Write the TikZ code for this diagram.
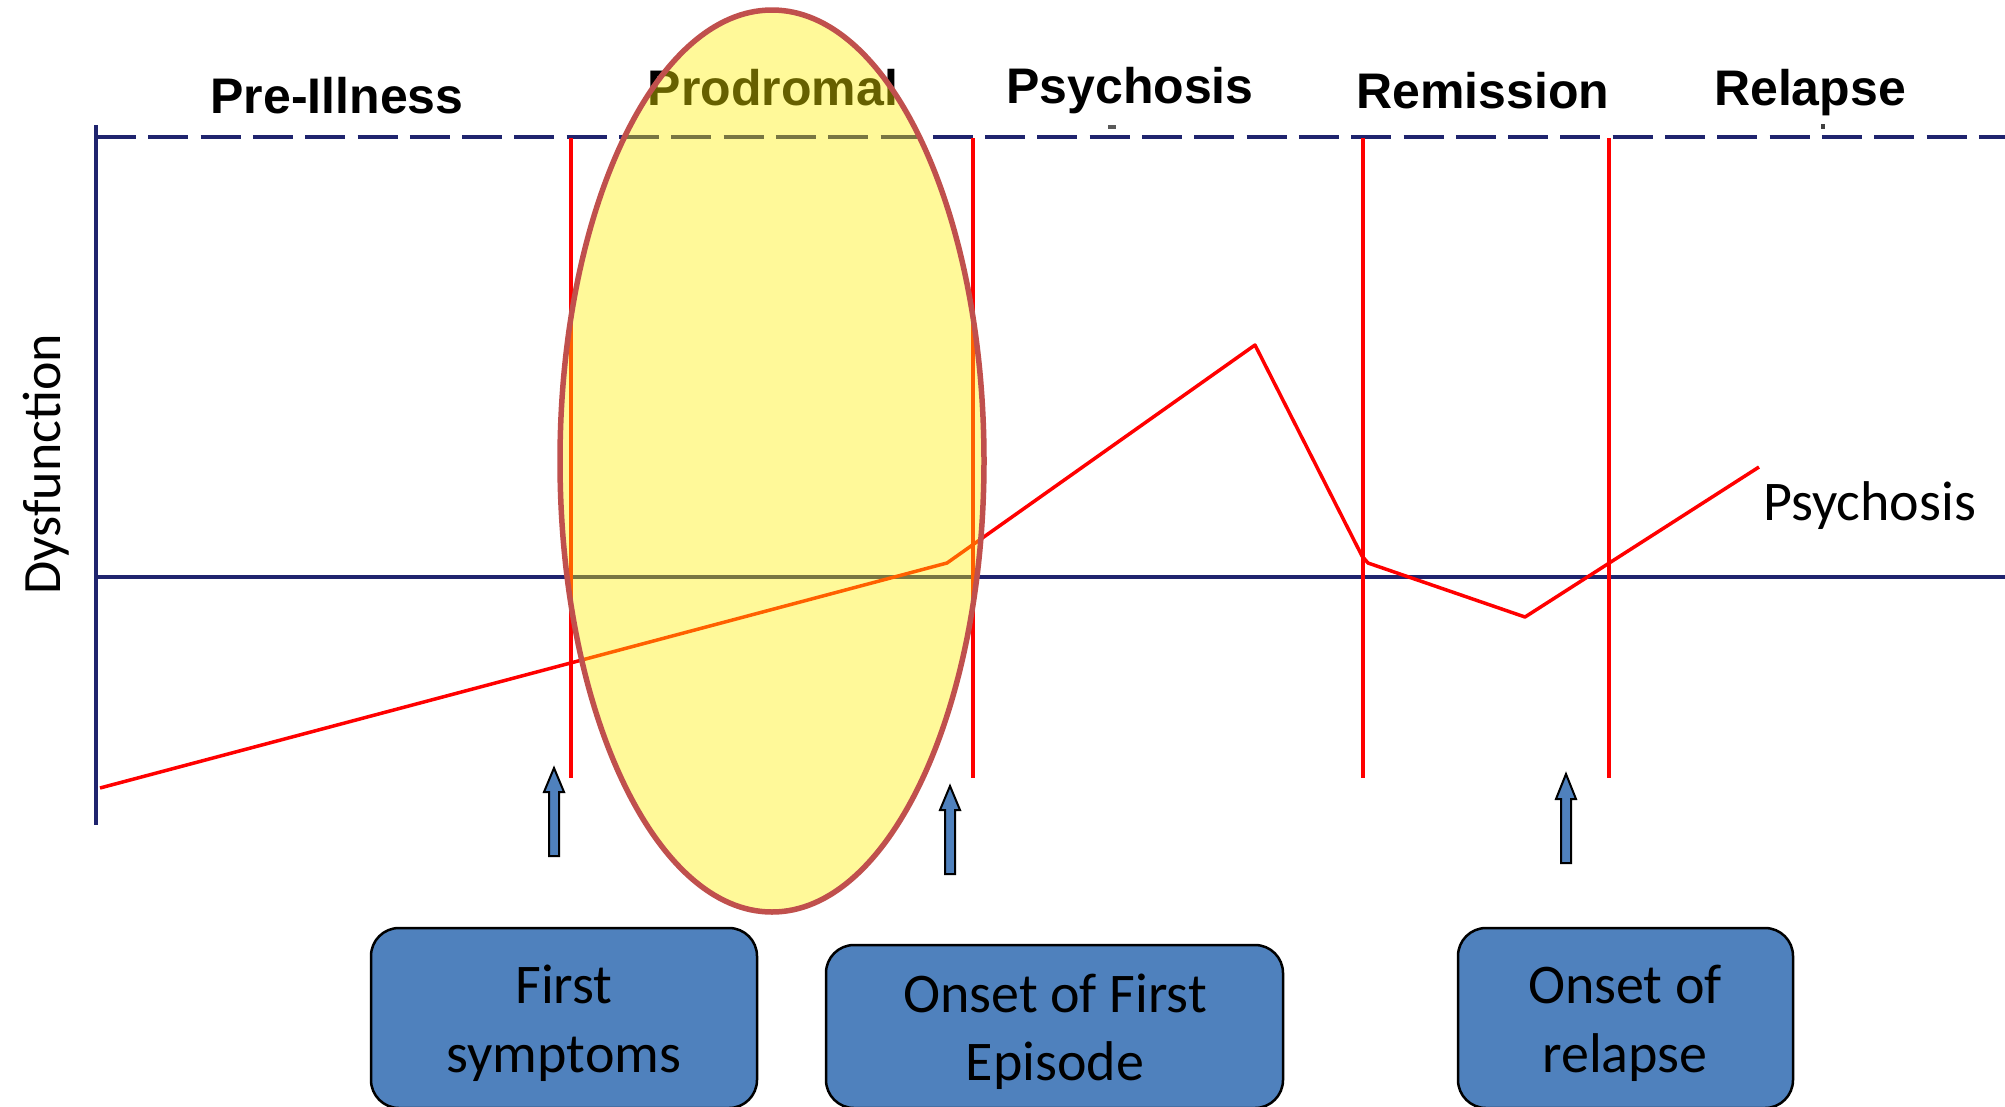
\documentclass[tikz,border=0pt]{standalone}
\usepackage{fontspec}
\setmainfont{Liberation Sans}
\newfontfamily\carlito{Carlito}
\usetikzlibrary{shapes.geometric}
\definecolor{navy}{RGB}{31,36,110}
\definecolor{boxblue}{HTML}{4F81BD}
\definecolor{ellred}{HTML}{C0504D}
\begin{document}
\begin{tikzpicture}[x=1pt,y=-1pt,
  axis/.style={draw=navy,line width=3.5pt},
  dashaxis/.style={draw=navy,line width=3.5pt,dash pattern=on 40pt off 12.3pt},
  redline/.style={draw=red,line width=3.5pt},
  dataline/.style={draw=red,line width=3.5pt,line join=round},
  head/.style={font=\fontsize{50}{60}\selectfont\bfseries,anchor=base,inner sep=0pt},
  lbl/.style={font=\carlito\fontsize{56}{66}\selectfont,anchor=base,inner sep=0pt},
  boxtxt/.style={font=\carlito\fontsize{56}{66}\selectfont,anchor=base,inner sep=0pt},
  bluebox/.style={draw=black,line width=2.5pt,fill=boxblue,rounded corners=28pt,inner sep=0pt},
  barrow/.style={draw=black,line width=2pt,fill=boxblue,line join=miter},
  prodell/.style={ellipse,draw=ellred,line width=5.5pt,fill=yellow,fill opacity=0.4,inner sep=0pt,
     minimum width=424pt,minimum height=902pt}
]
\useasboundingbox (0,0) rectangle (2005,1106);
\fill[white] (0,0) rectangle (2005,1106);

% axes
\coordinate (ytop) at (96,125);
\coordinate (ybot) at (96,825);
\coordinate (hl) at (96,577);
\coordinate (hr) at (2005,577);
\coordinate (dl) at (96,137);
\coordinate (dr) at (2005,137);
\draw[dashaxis] (dl) -- (dr);
\draw[axis] (hl) -- (hr);
\draw[axis] (ytop) -- (ybot);

% tiny marks
\fill[black!65] (1108,125) rectangle (1116,129);
\fill[black!75] (1821,124) rectangle (1825,129);

% red vertical phase lines
\foreach \n/\x in {a/571,b/973,c/1363,d/1609}{
  \coordinate (\n t) at (\x,138);
  \coordinate (\n b) at (\x,778);
  \draw[redline] (\n t) -- (\n b);
}

% data line
\coordinate (p0) at (100,788);
\coordinate (p1) at (947,563);
\coordinate (p2) at (1255,345);
\coordinate (p3) at (1362,556);
\coordinate (p4) at (1368,563);
\coordinate (p5) at (1525,617);
\coordinate (p6) at (1759,467);
\draw[dataline] (p0) -- (p1) -- (p2) -- (p3) -- (p4) -- (p5) -- (p6);

% headings
\node[head] (h1) at (337,113) {Pre-Illness};
\node[head] (h2) at (773,105) {Prodromal};
\node[head] (h3) at (1130,103) {Psychosis};
\node[head] (h4) at (1483,108) {Remission};
\node[head] (h5) at (1810,105) {Relapse};

% axis labels
\node[lbl,anchor=base west] (psy) at (1763,520) {Psychosis};
\node[lbl,rotate=90,font=\carlito\fontsize{54}{64}\selectfont] (dys) at (60,464) {Dysfunction};

% prodromal ellipse
\node[prodell] (ell) at (772,461) {};

% block arrows
\draw[barrow] (549,856) -- (549,792) -- (544,792) -- (554,768) -- (564,792) -- (559,792) -- (559,856) -- cycle;
\draw[barrow] (945,874) -- (945,810) -- (940,810) -- (950,786) -- (960,810) -- (955,810) -- (955,874) -- cycle;
\draw[barrow] (1561,863) -- (1561,799) -- (1556,799) -- (1566,774) -- (1576,799) -- (1571,799) -- (1571,863) -- cycle;

% boxes
\node[bluebox,minimum width=386pt,minimum height=180pt] (b1) at (564,1018) {};
\node[bluebox,minimum width=457pt,minimum height=163pt] (b2) at (1054.5,1026.5) {};
\node[bluebox,minimum width=335pt,minimum height=180pt] (b3) at (1625.5,1018) {};

\node[boxtxt] (t1a) at (564,1003) {First};
\node[boxtxt] (t1b) at (564,1072) {symptoms};
\node[boxtxt] (t2a) at (1055,1012) {Onset of First};
\node[boxtxt] (t2b) at (1055,1080) {Episode};
\node[boxtxt] (t3a) at (1625,1003) {Onset of};
\node[boxtxt] (t3b) at (1625,1072) {relapse};
\end{tikzpicture}
\end{document}
